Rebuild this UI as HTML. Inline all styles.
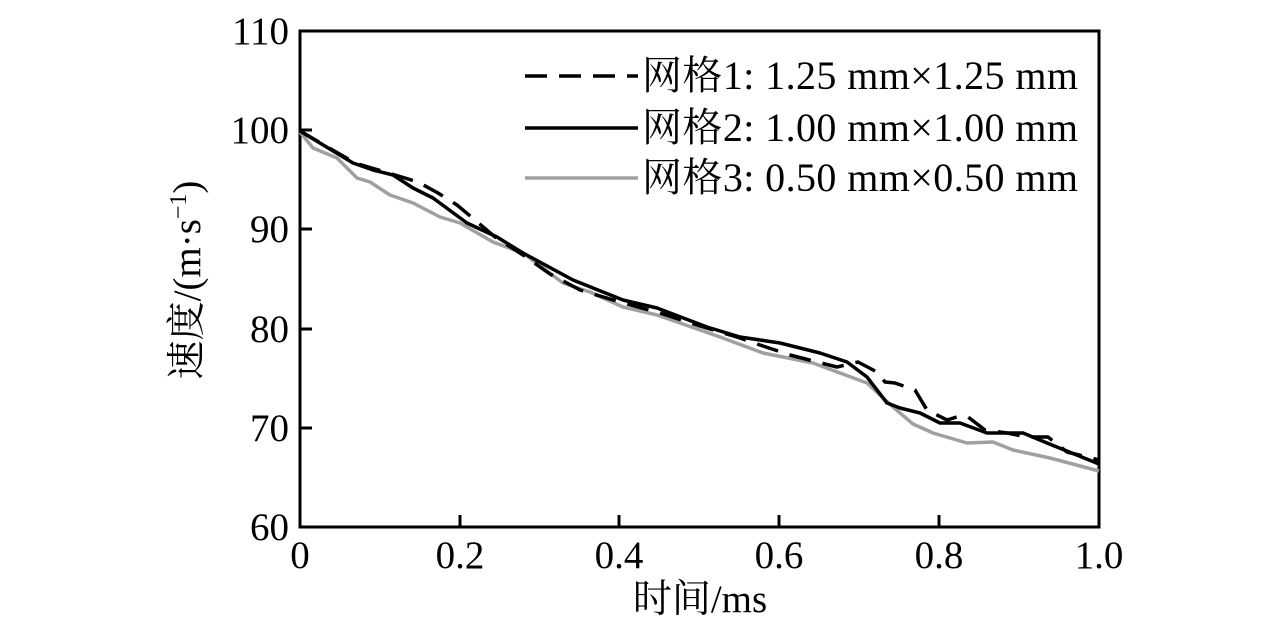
<!DOCTYPE html>
<html><head><meta charset="utf-8"><style>body{margin:0;background:#fff}</style></head><body>
<svg width="1276" height="628" viewBox="0 0 1276 628" xmlns="http://www.w3.org/2000/svg" font-family="'Liberation Serif','Noto Serif CJK SC',serif" font-size="39">
<rect x="300" y="31" width="799" height="496" fill="none" stroke="#000" stroke-width="3"/>
<g stroke="#000" stroke-width="3">
<line x1="300" y1="130" x2="312" y2="130"/><line x1="300" y1="229" x2="312" y2="229"/><line x1="300" y1="329" x2="312" y2="329"/><line x1="300" y1="428" x2="312" y2="428"/>
<line x1="460" y1="527" x2="460" y2="515"/><line x1="619" y1="527" x2="619" y2="515"/><line x1="779" y1="527" x2="779" y2="515"/><line x1="939" y1="527" x2="939" y2="515"/>
</g>
<g text-anchor="end">
<text x="289" y="44">110</text><text x="289" y="143">100</text><text x="289" y="242">90</text><text x="289" y="342">80</text><text x="289" y="441">70</text><text x="289" y="540">60</text>
</g>
<g text-anchor="middle">
<text x="300" y="568">0</text><text x="460" y="568">0.2</text><text x="619" y="568">0.4</text><text x="779" y="568">0.6</text><text x="939" y="568">0.8</text><text x="1099" y="568">1.0</text>
<text x="700" y="612">时间/ms</text>
<text transform="translate(200,280) rotate(-90)">速度/(m·s<tspan font-size="24" dy="-14">−1</tspan><tspan dy="14">)</tspan></text>
</g>
<g fill="none" stroke-linejoin="round" stroke-linecap="butt" stroke-width="3.5">
<polyline stroke="#a0a0a0" points="300,132 313,148 337,158 357,178 370,182 390,195 413,203 440,217 460,223 493,242 523,253 563,283 590,292 623,307 657,315 680,323 720,337 763,353 813,363 867,383 893,407 913,424 933,433 967,443 993,442 1013,450 1050,458 1099,471"/>
<polyline stroke="#000" stroke-dasharray="22,12" points="300,131 355,163 395,175 418,182 438,193 457,205 475,220 495,237 523,255 550,274 580,290 620,302 660,313 700,326 740,338 760,345 790,355 817,362 837,367 850,364 858,362 877,372 885,382 895,383 915,390 927,410 947,420 960,416 968,417 985,430 1007,433 1027,437 1048,437 1067,452 1099,460"/>
<polyline stroke="#000" points="300,131 353,163 373,170 393,175 413,188 433,198 467,223 497,237 523,253 573,280 623,300 657,308 707,327 740,337 780,343 820,353 847,362 867,377 887,403 900,408 920,413 940,423 960,423 987,433 1023,433 1047,443 1099,464"/>
<line x1="525" y1="76" x2="638" y2="76" stroke="#000" stroke-dasharray="22,12"/>
<line x1="525" y1="128" x2="638" y2="128" stroke="#000"/>
<line x1="525" y1="178" x2="638" y2="178" stroke="#a0a0a0"/>
</g>
<g font-size="40">
<text x="642" y="89" textLength="436">网格1: 1.25 mm×1.25 mm</text>
<text x="642" y="141" textLength="436">网格2: 1.00 mm×1.00 mm</text>
<text x="642" y="191" textLength="436">网格3: 0.50 mm×0.50 mm</text>
</g>
</svg>
</body></html>
